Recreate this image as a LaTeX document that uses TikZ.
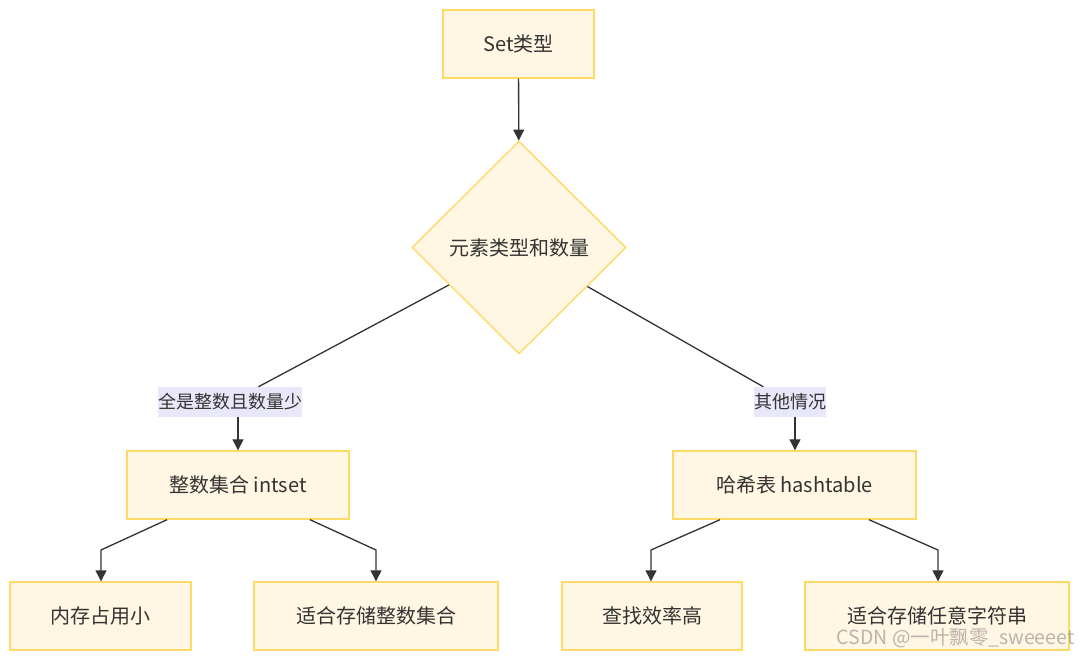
\documentclass[tikz,border=0pt]{standalone}
\usepackage{fontspec}
\setmainfont{Noto Sans CJK SC}
\usetikzlibrary{shapes.geometric,arrows.meta}
\definecolor{boxfill}{HTML}{FFF6E3}
\definecolor{boxline}{HTML}{FFD966}
\definecolor{labfill}{HTML}{E8E8FA}
\definecolor{ink}{HTML}{333333}
\tikzset{
  box/.style={draw=boxline,fill=boxfill,line width=1.4pt,minimum height=68pt,inner sep=0pt,
    text=ink,font=\fontsize{20}{24}\selectfont},
  choice/.style={box,diamond,minimum width=214pt,minimum height=213pt},
  edgelab/.style={fill=labfill,text=ink,minimum height=30pt,inner sep=0pt,font=\fontsize{18}{22}\selectfont},
  link/.style={draw=ink,line width=1.3pt},
  arr/.style={link,-{Triangle[length=11pt,width=11pt]}}
}
\begin{document}
\begin{tikzpicture}[x=1pt,y=-1pt]
\useasboundingbox[fill=white] (0,0) rectangle (1080,660);
% nodes
\node[box,minimum width=151pt] (setT) at (518.5,44) {Set类型};
\node[choice] (dia) at (519,247.5) {元素类型和数量};
\node[edgelab,minimum width=144pt] (lab1) at (230,402) {全是整数且数量少};
\node[edgelab,minimum width=72pt] (lab2) at (790,402) {其他情况};
\node[box,minimum width=222pt] (intset) at (238,485) {整数集合 intset};
\node[box,minimum width=243pt] (hash) at (794.5,485) {哈希表 hashtable};
\node[box,minimum width=181pt] (mem) at (100.5,616) {内存占用小};
\node[box,minimum width=244pt] (intall) at (376,616) {适合存储整数集合};
\node[box,minimum width=180pt] (find) at (652,616) {查找效率高};
\node[box,minimum width=264pt] (strall) at (937,616) {适合存储任意字符串};
% bends
\coordinate (c1) at (101,550);
\coordinate (c2) at (376,550);
\coordinate (c3) at (651,550);
\coordinate (c4) at (938,550);
% connectors
\draw[arr] (setT) -- (dia);
\draw[link] (dia) -- (lab1);
\draw[link] (dia) -- (lab2);
\draw[arr] (lab1.south -| 238,0) -- (intset.north -| 238,0);
\draw[arr] (lab2.south -| 795,0) -- (hash.north -| 795,0);
\draw[arr] ([xshift=-71pt]intset.south) -- (c1) -- (c1 |- mem.north);
\draw[arr] ([xshift=72pt]intset.south) -- (c2) -- (c2 |- intall.north);
\draw[arr] ([xshift=-74.5pt]hash.south) -- (c3) -- (c3 |- find.north);
\draw[arr] ([xshift=74.5pt]hash.south) -- (c4) -- (c4 |- strall.north);
% watermark
\node[text=gray,opacity=0.55,font=\fontsize{19.5}{23}\selectfont,anchor=east] (mark) at (1078,638) {CSDN @一叶飘零\_sweeeet};
\end{tikzpicture}
\end{document}
